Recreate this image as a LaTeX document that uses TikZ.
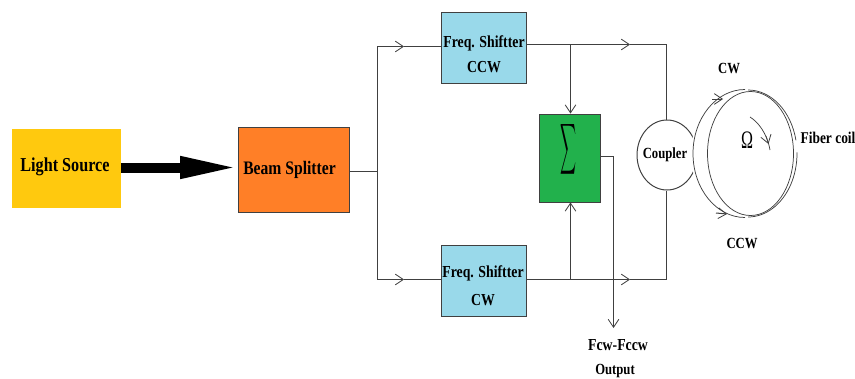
\documentclass[tikz,border=0pt]{standalone}
\usepackage{fontspec}
\setmainfont[FakeStretch=0.82]{Liberation Serif}
\usetikzlibrary{arrows.meta}
\usetikzlibrary{shapes}

\definecolor{wirecol}{HTML}{404040}
\definecolor{sourcecol}{HTML}{FFC90E}
\definecolor{splitcol}{HTML}{FF7F27}
\definecolor{shiftcol}{HTML}{99D9EA}
\definecolor{sumcol}{HTML}{22B14C}

\tikzset{
  wire/.style={draw=wirecol,line width=0.75pt},
  thinwire/.style={draw=wirecol,line width=0.55pt},
  tipped/.style={wire,-{Straight Barb[length=6pt,width=8pt,line width=0.6pt]}},
  block/.style={draw=wirecol,line width=0.7pt,inner sep=0pt},
  caption/.style={inner sep=0.75pt,align=center,font=\bfseries\fontsize{11.6}{14}\selectfont},
  blocktext/.style={inner sep=0.75pt,align=center,font=\bfseries\fontsize{12.6}{19}\selectfont},
}

\begin{document}
\begin{tikzpicture}[x=0.75pt,y=0.75pt,yscale=-1,xscale=1]
\useasboundingbox (0,0) rectangle (855,378);

% Blocks
\node (lightsource) [block,draw=none,fill=sourcecol,minimum width=81.75pt,minimum height=59.25pt] at (66.5,168.5) {};
\node (beamsplit) [block,fill=splitcol,minimum width=83.25pt,minimum height=63.75pt] at (293.5,169.5) {};
\node (shiftccw) [block,fill=shiftcol,minimum width=63.75pt,minimum height=53.25pt] at (483.5,47.5) {};
\node (shiftcw) [block,fill=shiftcol,minimum width=63.75pt,minimum height=53.25pt] at (483.5,280.5) {};
\node (sumbox) [block,fill=sumcol,minimum width=45.75pt,minimum height=66pt] at (569.5,158) {};
\node (coupler) [ellipse,wire,inner sep=0pt,minimum width=45pt,minimum height=52.5pt] at (667,155) {};

% Fiber coil
\fill [white] (745,153.5) ellipse [x radius=54,y radius=66];
\draw [thinwire] (745,89.5) arc [start angle=270,end angle=90,x radius=52,y radius=64];
\draw [thinwire] (748,90) arc [start angle=-90,end angle=-12,x radius=49,y radius=63.5];
\draw [thinwire] (748,217) arc [start angle=90,end angle=-1,x radius=49,y radius=63.5];
\draw [thinwire] (750.5,153.5) ellipse [x radius=43,y radius=62];

% Junction points
\coordinate (fork) at (377.5,171.5);
\coordinate (forktop) at (377.5,46.5);
\coordinate (forkbot) at (377.5,279.5);
\coordinate (toptap) at (570.5,44.5);
\coordinate (topcorner) at (666.5,44.5);
\coordinate (bottap) at (570.5,279.5);
\coordinate (botcorner) at (666.5,279.5);
\coordinate (sumcorner) at (613.5,156.5);
\coordinate (outend) at (613.5,328);

% Thick arrow
\draw [line width=7.5pt,-{Triangle[length=45pt,width=15pt]}] (lightsource.east |- 0,167.5) -- (240,167.5);

% Straight Lines
\draw [wire] (beamsplit.east |- fork) -- (fork);
\draw [wire] (forktop) -- (forkbot);
\draw [tipped] (forktop) -- (404,46.5);
\draw [wire] (404,46.5) -- (shiftccw.west |- forktop);
\draw [tipped] (forkbot) -- (404,279.5);
\draw [wire] (404,279.5) -- (shiftcw.west |- forkbot);
\draw [tipped] (shiftccw.east |- topcorner) -- (630,44.5);
\draw [wire] (630,44.5) -- (topcorner) -- (coupler.north -| topcorner);
\draw [tipped] (shiftcw.east |- botcorner) -- (630,279.5);
\draw [wire] (630,279.5) -- (botcorner) -- (coupler.south -| botcorner);
\draw [tipped] (toptap) -- (toptap |- sumbox.north);
\draw [tipped] (bottap) -- (bottap |- sumbox.south);
\draw [wire] (sumbox.east |- sumcorner) -- (sumcorner);
\draw [tipped] (sumcorner) -- (outend);

% Coil arrows
\draw [tipped] (712,99) -- (723,99);
\draw [tipped] (716,213) -- (727,214);
\draw [thinwire] (750,117) .. controls (758,122) and (767,133) .. (770,150);
\draw [tipped,line width=0.55pt] (766,136) -- (768.5,144);

% Text Node
\node (lighttext) [blocktext,font=\bfseries\fontsize{14.8}{16}\selectfont] at (65,167) {Light Source};
\node (beamtext) [blocktext,font=\bfseries\fontsize{14.3}{16}\selectfont] at (289.5,170) {Beam Splitter};
\node (ccwboxtext) [blocktext] at (484,54.5) {Freq. Shiftter\\CCW};
\node (cwboxtext) [blocktext,font=\bfseries\fontsize{12.6}{21}\selectfont] at (483,286) {Freq. Shiftter\\CW};
\node (sumsign) [inner sep=0pt] at (568,149) {\resizebox{12pt}{28pt}{$\displaystyle\sum$}};
\node (couplertext) [caption] at (665,155) {Coupler};
\node (omega) [inner sep=0pt] at (747,140) {\resizebox{9pt}{12.5pt}{\normalfont Ω}};
\node (cwtext) [caption] at (729,68) {CW};
\node (ccwtext) [caption] at (742,243) {CCW};
\node (fibertext) [caption,font=\bfseries\fontsize{12.3}{14}\selectfont] at (828,138) {Fiber coil};
\node (fcwtext) [caption,font=\bfseries\fontsize{12.6}{14}\selectfont] at (618,345) {Fcw-Fccw};
\node (outtext) [caption] at (615,371) {Output};

\end{tikzpicture}
\end{document}
